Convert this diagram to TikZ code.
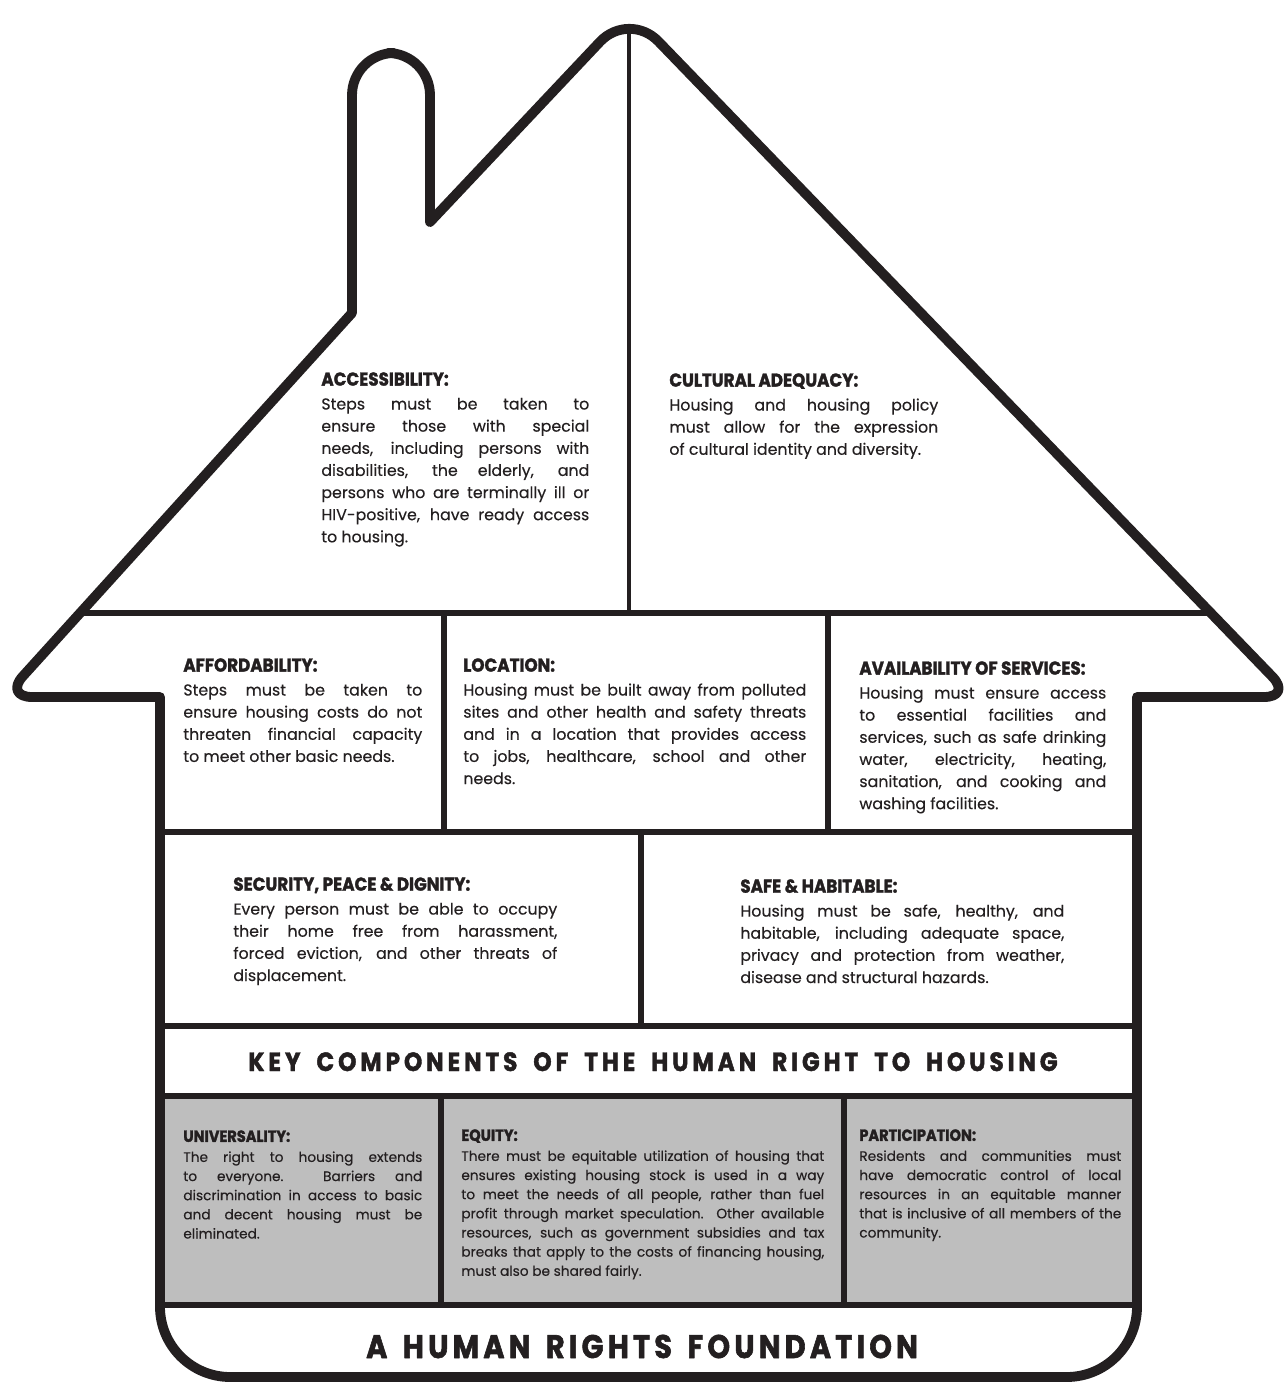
\documentclass[tikz,border=0pt]{standalone}
\usepackage{fontspec}
\setmainfont{Poppins}[FakeBold=0.3]
\newfontfamily\headfont{Poppins}[FakeStretch=0.9,FakeBold=1.6]
\newfontfamily\bandfont{Poppins}[FakeStretch=0.88,FakeBold=1.6,LetterSpace=15,WordSpace=1.8]
\newfontfamily\basefont{Poppins}[FakeStretch=0.88,FakeBold=1.8,LetterSpace=13,WordSpace=1.5]
\definecolor{ink}{RGB}{35,31,32}
\definecolor{cellGrey}{RGB}{190,190,190}
\newcommand\hd[1]{{\headfont\bfseries\fontsize{10.6}{12}\selectfont #1}\\[1pt]}
\newcommand\shd[1]{{\headfont\bfseries\fontsize{9.2}{11}\selectfont #1}\\[0.5pt]}

\begin{document}
\begin{tikzpicture}[x=0.02cm,y=-0.02cm, every node/.style={inner sep=0pt}, line join=round]
  \def\wallL{160}
  \def\wallR{1137}
  \def\eave{697}
  \def\roofbase{613}
  \def\rowA{832}
  \def\rowB{1026}
  \def\rowC{1096}
  \def\rowD{1305}
  \def\floor{1377}

  \tikzset{
    outline/.style={draw=ink, line width=5.6pt},
    bar/.style={draw=ink, line width=3.4pt},
    thinbar/.style={draw=ink, line width=2.6pt},
    txt/.style={anchor=north west, align=justify, text=ink, font=\fontsize{9}{12.6}\selectfont},
    smalltxt/.style={txt, font=\fontsize{7.8}{10.9}\selectfont},
    band/.style={anchor=base, text=ink}
  }

  % page size of the reference
  \path[use as bounding box] (0,0) rectangle (1287,1382);

  % grey row of the foundation
  \fill[cellGrey] (\wallL,\rowC) rectangle (\wallR,\rowD);

  % inner walls and floors
  \draw[thinbar] (629,30) -- (629,\roofbase);
  \draw[bar] (78,\roofbase) -- (1212,\roofbase);
  \draw[bar] (444,\roofbase) -- (444,\rowA);
  \draw[bar] (828,\roofbase) -- (828,\rowA);
  \draw[bar] (\wallL,\rowA) -- (\wallR,\rowA);
  \draw[bar] (641,\rowA) -- (641,\rowB);
  \draw[bar] (\wallL,\rowB) -- (\wallR,\rowB);
  \draw[bar] (\wallL,\rowC) -- (\wallR,\rowC);
  \draw[bar] (441,\rowC) -- (441,\rowD);
  \draw[bar] (844,\rowC) -- (844,\rowD);
  \draw[bar] (\wallL,\rowD) -- (\wallR,\rowD);

  % house outline with chimney
  \draw[outline] (430,222)
    [rounded corners=24] -- (629,11)
    [rounded corners=16] -- (1292,\eave)
    [sharp corners] -- (\wallR,\eave)
    [rounded corners=40] -- (\wallR,\floor) -- (\wallL,\floor)
    [sharp corners] -- (\wallL,\eave)
    [rounded corners=16] -- (4,\eave)
    [sharp corners] -- (352,313)
    [rounded corners=24] -- (352,53) -- (430,53)
    [sharp corners] -- cycle;

  % roof
  \node[txt, text width=5.36cm] (access) at (321,372) {\hd{ACCESSIBILITY:}Steps must be taken to\linebreak
    ensure those with special\linebreak needs, including persons with\linebreak
    disabilities, the elderly, and\linebreak persons who are terminally ill or\linebreak
    HIV-positive, have ready access\linebreak to housing.};
  \node[txt, text width=5.38cm] (culture) at (669,373) {\hd{CULTURAL ADEQUACY:}Housing and housing policy\linebreak
    must allow for the expression\linebreak of cultural identity and diversity.};

  % first floor
  \node[txt, text width=4.78cm] (afford) at (183,658) {\hd{AFFORDABILITY:}Steps must be taken to\linebreak
    ensure housing costs do not\linebreak threaten financial capacity\linebreak to meet other basic needs.};
  \node[txt, text width=6.86cm] (location) at (463,658) {\hd{LOCATION:}Housing must be built away from polluted\linebreak
    sites and other health and safety threats\linebreak and in a location that provides access\linebreak
    to jobs, healthcare, school and other\linebreak needs.};
  \node[txt, text width=4.94cm] (services) at (859,661) {\hd{AVAILABILITY OF SERVICES:}Housing must ensure access\linebreak
    to essential facilities and\linebreak services, such as safe drinking\linebreak
    water, electricity, heating,\linebreak sanitation, and cooking and\linebreak washing facilities.};

  % second floor
  \node[txt, text width=6.48cm] (security) at (233,877) {\hd{SECURITY, PEACE \& DIGNITY:}Every person must be able to occupy\linebreak
    their home free from harassment,\linebreak forced eviction, and other threats of\linebreak displacement.};
  \node[txt, text width=6.48cm] (safe) at (740,879) {\hd{SAFE \& HABITABLE:}Housing must be safe, healthy, and\linebreak
    habitable, including adequate space,\linebreak privacy and protection from weather,\linebreak
    disease and structural hazards.};

  % titles and foundation
  \node[band, font=\bandfont\bfseries\fontsize{15}{17}\selectfont] (keytitle) at (653,1071) {KEY COMPONENTS OF THE HUMAN RIGHT TO HOUSING};

  \node[smalltxt, text width=4.78cm] (univ) at (183,1130) {\shd{UNIVERSALITY:}The right to housing extends\linebreak
    to everyone.\ \ Barriers and\linebreak discrimination in access to basic\linebreak
    and decent housing must be\linebreak eliminated.};
  \node[smalltxt, text width=7.26cm] (equity) at (461,1129) {\shd{EQUITY:}There must be equitable utilization of housing that\linebreak
    ensures existing housing stock is used in a way\linebreak to meet the needs of all people, rather than fuel\linebreak
    profit through market speculation.\ \ Other available\linebreak resources, such as government subsidies and tax\linebreak
    breaks that apply to the costs of financing housing,\linebreak must also be shared fairly.};
  \node[smalltxt, text width=5.24cm] (particip) at (859,1129) {\shd{PARTICIPATION:}Residents and communities must\linebreak
    have democratic control of local\linebreak resources in an equitable manner\linebreak
    that is inclusive of all members of the\linebreak community.};

  \node[band, font=\basefont\bfseries\fontsize{18.6}{20}\selectfont] (foundation) at (642,1358) {A HUMAN RIGHTS FOUNDATION};

\end{tikzpicture}
\end{document}
